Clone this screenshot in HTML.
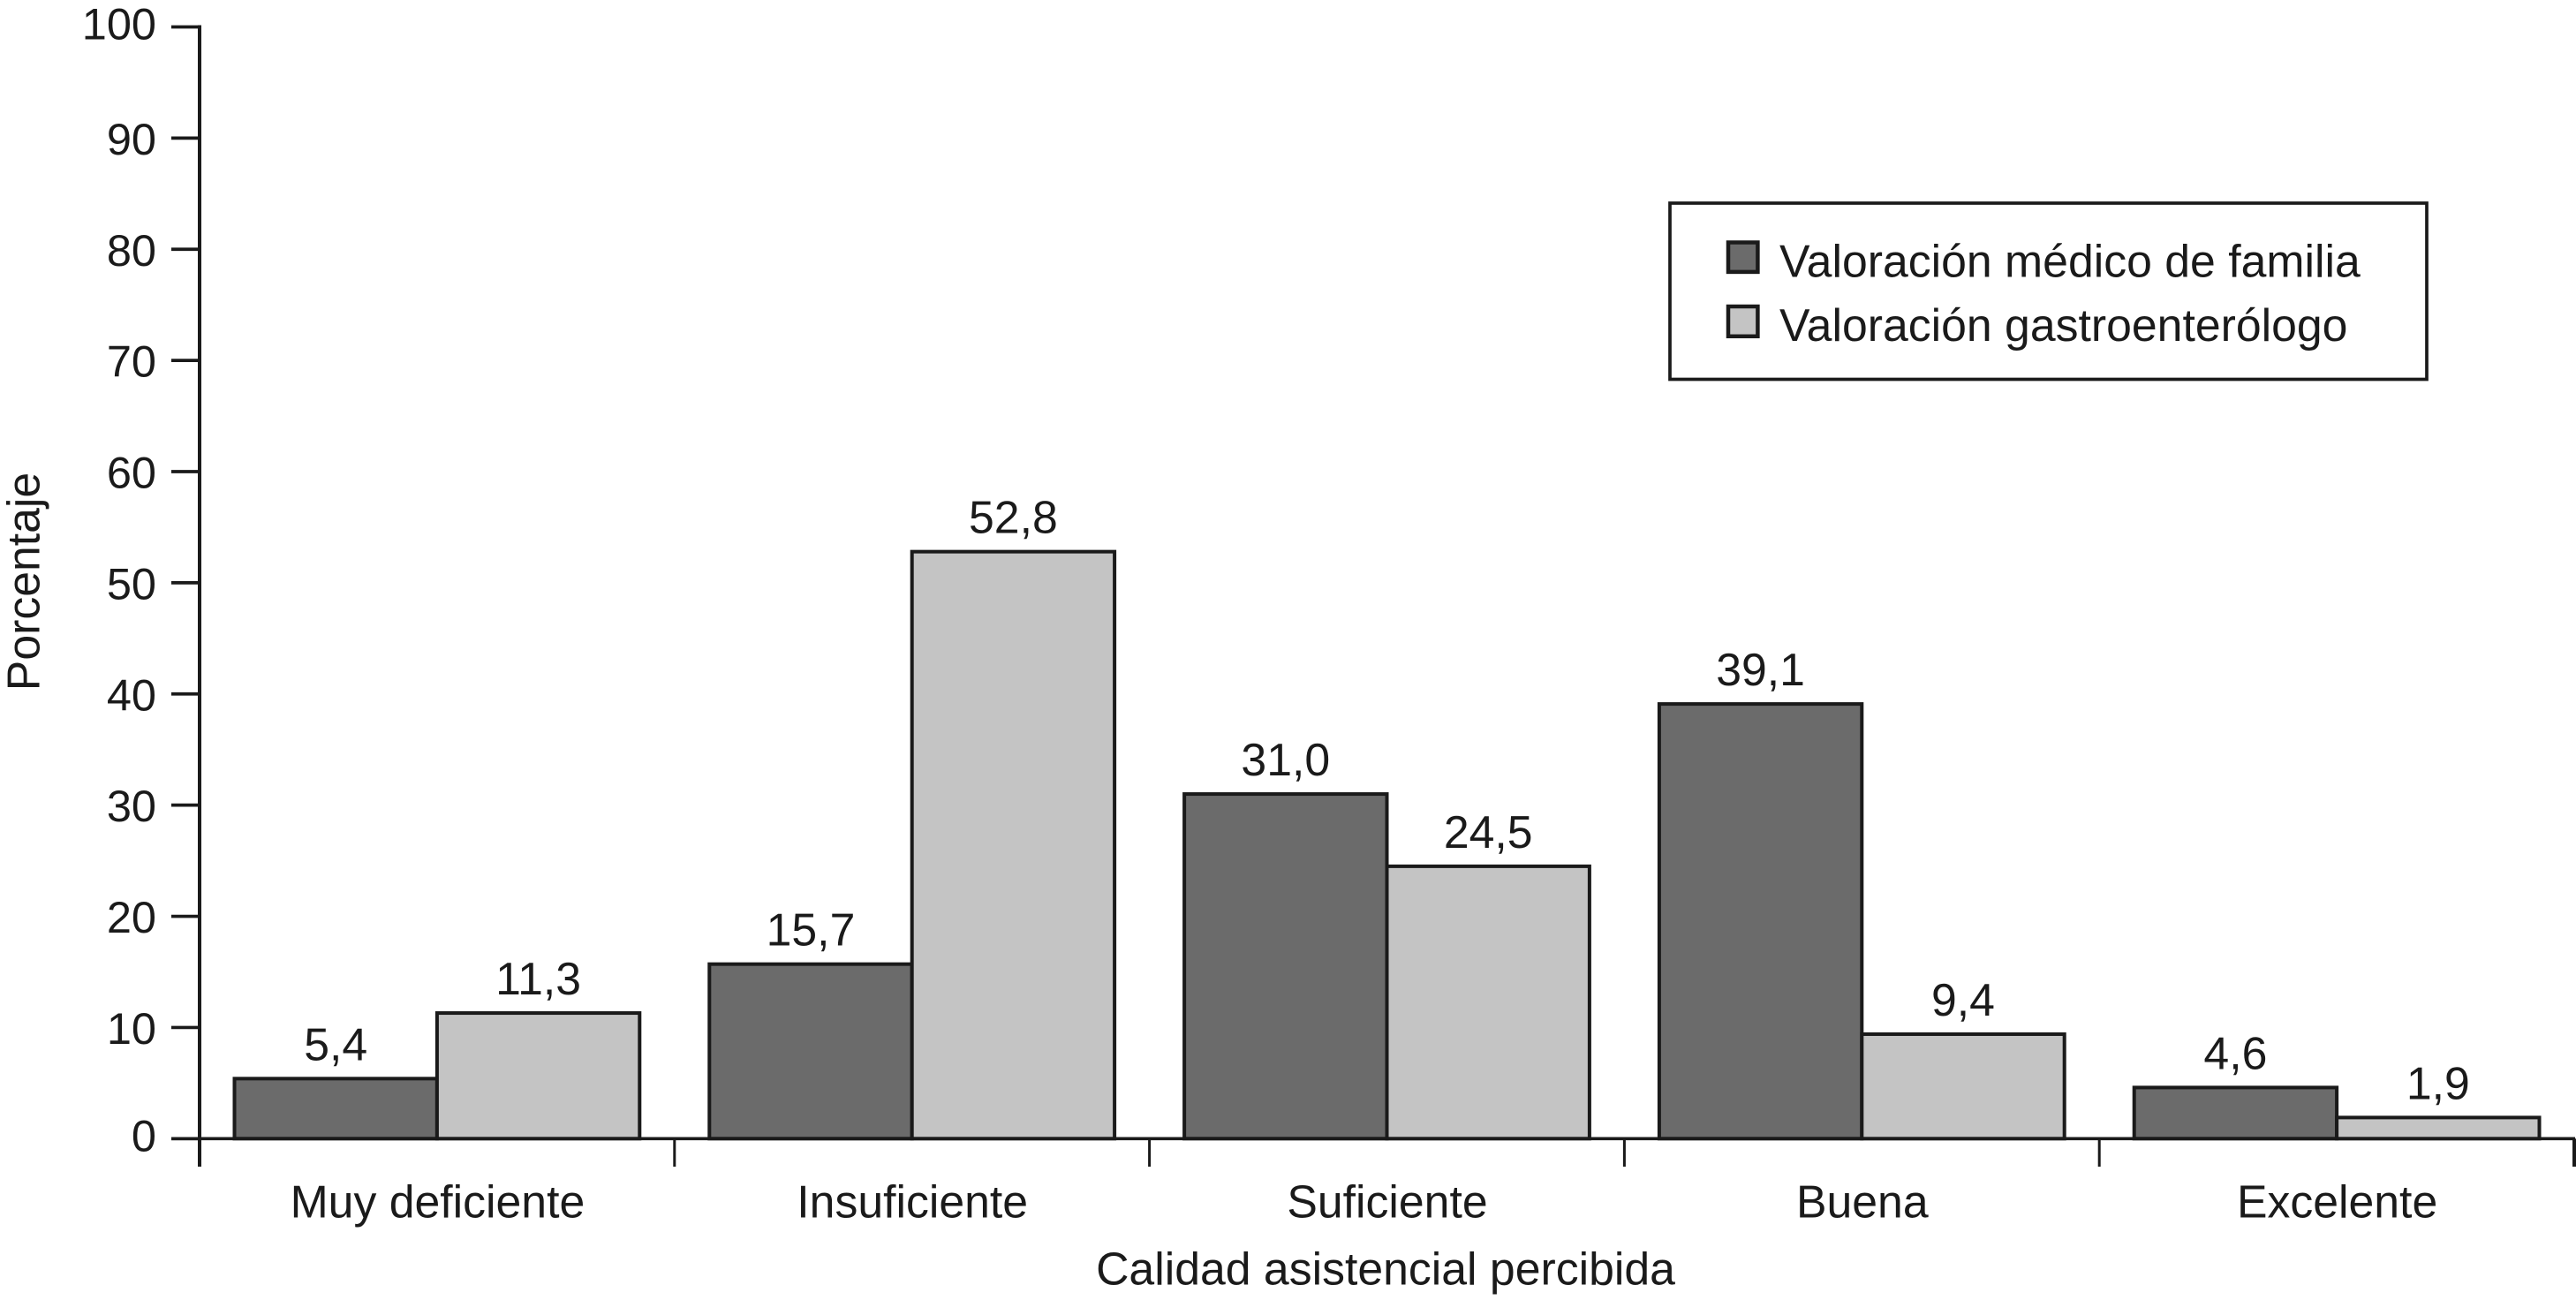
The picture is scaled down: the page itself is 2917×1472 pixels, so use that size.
<!DOCTYPE html>
<html lang="es">
<head>
<meta charset="utf-8">
<title>Calidad asistencial percibida</title>
<style>
  html, body { margin: 0; padding: 0; background: #ffffff; }
  body { width: 2917px; height: 1472px; overflow: hidden; }
  svg { display: block; }
  text { font-family: "Liberation Sans", Arial, sans-serif; fill: #1a1a1a; font-size: 51.75px; }
  #y-labels text { font-size: 50.5px; }
</style>
</head>
<body>
<svg id="chart" xmlns="http://www.w3.org/2000/svg" width="2917" height="1472" viewBox="0 0 2917 1472">
  <rect x="0" y="0" width="2917" height="1472" fill="#ffffff"/>
  <g id="bars"></g>
  <g id="value-labels"></g>
  <g id="axes"></g>
  <g id="y-labels"></g>
  <g id="x-labels"></g>
  <text transform="translate(44.5,658.5) rotate(-90)" text-anchor="middle">Porcentaje</text>
  <text x="1569" y="1454.5" text-anchor="middle">Calidad asistencial percibida</text>
  <g>
    <rect x="1891" y="230" width="857" height="199.5" fill="#ffffff" stroke="#1a1a1a" stroke-width="3.7"/>
    <rect x="1957" y="274.5" width="33.4" height="33.4" fill="#6b6b6b" stroke="#1a1a1a" stroke-width="4.5"/>
    <text x="2015" y="313.5">Valoración médico de familia</text>
    <rect x="1957" y="347" width="33.4" height="33.8" fill="#c4c4c4" stroke="#1a1a1a" stroke-width="4.5"/>
    <text x="2015" y="386">Valoración gastroenterólogo</text>
  </g>
</svg>
<script>
const categories = ["Muy deficiente", "Insuficiente", "Suficiente", "Buena", "Excelente"];
const medicoFamilia = [5.4, 15.7, 31.0, 39.1, 4.6];
const gastroenterologo = [11.3, 52.8, 24.5, 9.4, 1.9];
const yTicks = [0, 10, 20, 30, 40, 50, 60, 70, 80, 90, 100];

const NS = "http://www.w3.org/2000/svg";
const plotLeft = 226, plotRight = 2915, plotTop = 30.5, plotBottom = 1289.3;
const yMax = 100;
const groupWidth = (plotRight - plotLeft) / categories.length;
const groupPad = 39.5;
const barWidth = (groupWidth - 2 * groupPad) / 2;
const axisColor = "#1a1a1a";

function yScale(v) { return plotBottom - (v / yMax) * (plotBottom - plotTop); }
function xGroup(i) { return plotLeft + i * groupWidth; }
function xBar(i, s) { return xGroup(i) + groupPad + s * barWidth; }
function fmt(v) { return v.toFixed(1).replace(".", ","); }

function make(tag, attrs, parent, txt) {
  const el = document.createElementNS(NS, tag);
  for (const k in attrs) el.setAttribute(k, attrs[k]);
  if (txt !== undefined) el.textContent = txt;
  parent.appendChild(el);
  return el;
}

const barsG = document.getElementById("bars");
const valuesG = document.getElementById("value-labels");
const axesG = document.getElementById("axes");
const yLabelsG = document.getElementById("y-labels");
const xLabelsG = document.getElementById("x-labels");

const seriesList = [medicoFamilia, gastroenterologo];
const seriesKeys = ["medico-familia", "gastroenterologo"];
const seriesFill = ["#6b6b6b", "#c4c4c4"];

seriesList.forEach(function (series, s) {
  series.forEach(function (v, i) {
    const top = yScale(v);
    const bar = make("rect", {
      x: xBar(i, s), y: top, width: barWidth, height: plotBottom - top,
      fill: seriesFill[s], stroke: axisColor, "stroke-width": 4
    }, barsG);
    
    

    const label = make("text", {
      x: xBar(i, s) + barWidth / 2, y: top - 21, "text-anchor": "middle"
    }, valuesG, fmt(v));
    
    
  });
});

const yAxis = make("line", {
  x1: plotLeft, x2: plotLeft, y1: plotTop - 2, y2: 1321,
  stroke: axisColor, "stroke-width": 4
}, axesG);



const xAxis = make("line", {
  x1: 194, x2: plotRight + 1, y1: plotBottom, y2: plotBottom,
  stroke: axisColor, "stroke-width": 3.7
}, axesG);



yTicks.forEach(function (t) {
  const y = yScale(t);
  const tick = make("line", {
    x1: 194, x2: plotLeft, y1: y, y2: y,
    stroke: axisColor, "stroke-width": 3.7
  }, axesG);
  
  

  const isEnd = (t === yTicks[0] || t === yTicks[yTicks.length - 1]);
  const label = make("text", {
    x: 177, y: y + (isEnd ? 14 : 18.5), "text-anchor": "end"
  }, yLabelsG, String(t));
  
  
});

for (let i = 1; i <= categories.length; i++) {
  const tick = make("line", {
    x1: xGroup(i), x2: xGroup(i), y1: plotBottom, y2: 1321,
    stroke: axisColor, "stroke-width": i === categories.length ? 4 : 3
  }, axesG);
  
  
}

categories.forEach(function (c, i) {
  const label = make("text", {
    x: xGroup(i) + groupWidth / 2 + 0.5, y: 1378.5, "text-anchor": "middle"
  }, xLabelsG, c);
  
  
});
</script>
</body>
</html>
